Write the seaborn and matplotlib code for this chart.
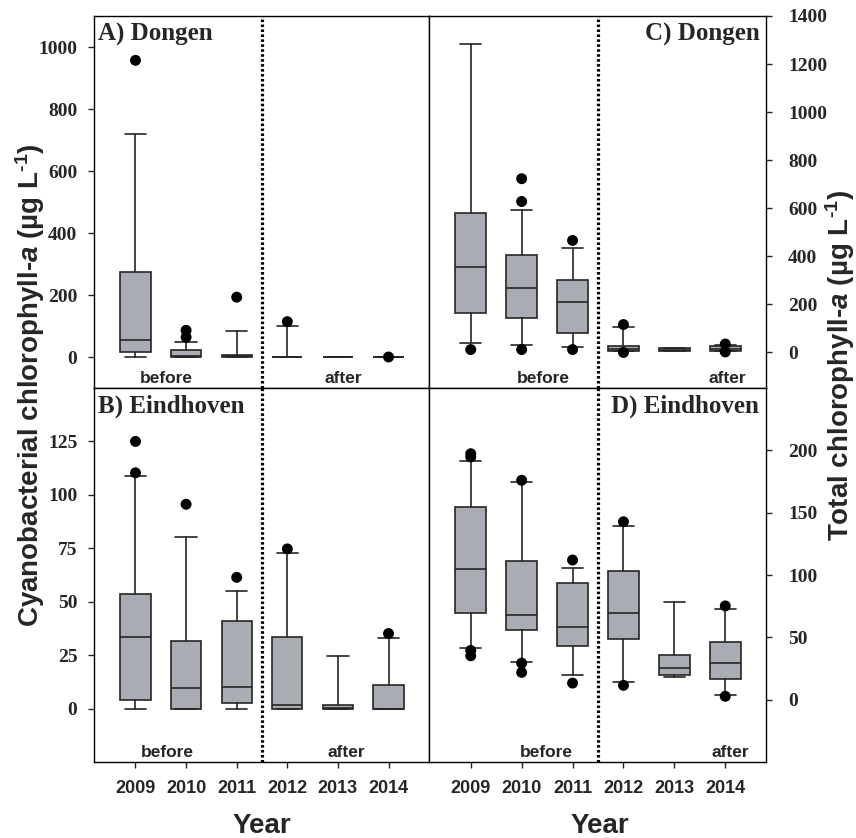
import matplotlib
matplotlib.use("Agg")
import matplotlib.pyplot as plt
import matplotlib.transforms as mtransforms
import numpy as np
import pandas as pd
import seaborn as sns

years = ["2009", "2010", "2011", "2012", "2013", "2014"]

# A) Dongen - cyanobacterial chlorophyll-a (box summary: whisker lo, q1, median, q3, whisker hi)
a_lo = [0, 0, 0, 0, 0, 0]
a_q1 = [15, 0, 0, 0, 0, 0]
a_med = [55, 3, 3, 0, 0, 0]
a_q3 = [275, 24, 8, 0, 0, 0]
a_hi = [720, 50, 84, 101, 0, 0]
a_out = [[957], [86, 64], [193], [114], [], [0]]

# B) Eindhoven - cyanobacterial chlorophyll-a
b_lo = [0, 0, 0, 0, 0, 0]
b_q1 = [3.9, 0, 2.6, 0, 0, 0]
b_med = [33.4, 9.4, 9.9, 1.9, 0.5, 0]
b_q3 = [53.4, 31.4, 41, 33.6, 1.9, 10.8]
b_hi = [109, 80.4, 55, 72.6, 24.4, 33.1]
b_out = [[110.3, 125], [95.6], [61.4], [74.7], [], [35.1]]

# C) Dongen - total chlorophyll-a
c_lo = [41, 30, 21, 5, 5, 5]
c_q1 = [163, 142, 79, 5, 7, 7]
c_med = [354, 268, 209, 14, 10, 14]
c_q3 = [581, 405, 302, 26, 17, 25]
c_hi = [1284, 592, 434, 104, 20, 30]
c_out = [[12], [628, 723, 12], [466, 12], [116, 0], [], [35, 2]]

# D) Eindhoven - total chlorophyll-a
d_lo = [41.6, 29.9, 19.7, 14.4, 18.1, 3.5]
d_q1 = [69.9, 56, 42.7, 48.8, 19.7, 16.3]
d_med = [104.5, 68, 57.9, 69.3, 25.3, 29.6]
d_q3 = [154.7, 111.5, 93.9, 103.5, 36, 46.1]
d_hi = [191.7, 174.4, 105.6, 139.5, 78.4, 72.5]
d_out = [[197.3, 194.7, 39.5, 35.2], [176, 29.3, 21.9], [112, 13.3], [142.7, 11.5], [], [75.2, 2.7]]

sns.set_theme(style="ticks")
plt.rcParams["font.family"] = ["Liberation Sans", "DejaVu Sans"]
plt.rcParams["font.weight"] = "bold"
plt.rcParams["axes.edgecolor"] = "black"
plt.rcParams["axes.linewidth"] = 1.0
plt.rcParams["mathtext.fontset"] = "custom"
plt.rcParams["mathtext.rm"] = "Liberation Sans:bold"
plt.rcParams["mathtext.it"] = "Liberation Sans:italic:bold"
plt.rcParams["mathtext.bf"] = "Liberation Sans:bold"

LINE = "#262626"
FILL = "#a9acb2"


def draw_panel(ax, lo, q1, med, q3, hi, outliers, ylim, yticks, title, side,
               before_x, after_x, bottom_row):
    stats = [dict(whislo=w0, q1=b0, med=m, q3=b1, whishi=w1, fliers=[])
             for w0, b0, m, b1, w1 in zip(lo, q1, med, q3, hi)]
    ax.bxp(stats, positions=np.arange(len(years)), widths=0.6, capwidths=0.42,
           patch_artist=True, showfliers=False, manage_ticks=False,
           boxprops=dict(facecolor=FILL, edgecolor=LINE, linewidth=1.2),
           medianprops=dict(color=LINE, linewidth=1.2),
           whiskerprops=dict(color=LINE, linewidth=1.2),
           capprops=dict(color=LINE, linewidth=1.2))

    out_df = pd.DataFrame(
        [(i, v) for i, vals in enumerate(outliers) for v in vals],
        columns=["pos", "value"])
    sns.scatterplot(data=out_df, x="pos", y="value", color="black", s=62,
                    edgecolor="none", legend=False, zorder=5, ax=ax)

    ax.axvline(2.5, color="black", lw=2.3, ls=(0, (0.8, 0.75)), zorder=4)

    ax.set_xlim(-0.82, 5.8)
    ax.set_ylim(*ylim)
    ax.set_xlabel("")
    ax.set_ylabel("")

    ax.set_yticks(yticks, labels=[str(v) for v in yticks],
                  fontfamily="Liberation Serif", fontsize=14, fontweight="bold")
    if side == "left":
        ax.tick_params(axis="y", direction="out", length=4, width=1, pad=8,
                       left=True, right=False, labelleft=True, labelright=False)
    else:
        ax.tick_params(axis="y", direction="out", length=4, width=1, pad=12,
                       left=False, right=True, labelleft=False, labelright=True)

    if bottom_row:
        ax.set_xticks(np.arange(len(years)), labels=years, fontsize=13,
                      fontweight="bold")
        ax.tick_params(axis="x", direction="out", length=4, width=1, pad=9)
    else:
        ax.tick_params(axis="x", bottom=False, labelbottom=False)

    for sp in ax.spines.values():
        sp.set_visible(True)
        sp.set_color("black")
        sp.set_linewidth(1.0)

    if side == "left":
        ax.text(0.012, 0.982, title, transform=ax.transAxes, ha="left", va="top",
                fontfamily="Liberation Serif", fontsize=18, fontweight="bold")
    else:
        ax.text(0.98, 0.982, title, transform=ax.transAxes, ha="right", va="top",
                fontfamily="Liberation Serif", fontsize=18, fontweight="bold")

    trans = mtransforms.blended_transform_factory(ax.transData, ax.transAxes)
    ax.text(before_x, 0.026, "before", transform=trans, ha="center", va="center",
            fontsize=12.5, fontweight="bold")
    ax.text(after_x, 0.026, "after", transform=trans, ha="center", va="center",
            fontsize=12.5, fontweight="bold")


W, H = 856, 838
fig = plt.figure(figsize=(W / 100, H / 100), dpi=100)

ax_a = fig.add_axes([94 / W, 1 - 388 / H, 335 / W, 372 / H])
ax_b = fig.add_axes([94 / W, 1 - 762 / H, 335 / W, 374 / H])
ax_c = fig.add_axes([429 / W, 1 - 388 / H, 337 / W, 372 / H])
ax_d = fig.add_axes([429 / W, 1 - 762 / H, 337 / W, 374 / H])

draw_panel(ax_a, a_lo, a_q1, a_med, a_q3, a_hi, a_out, (-100, 1100),
           [0, 200, 400, 600, 800, 1000], "A) Dongen", "left", 0.6, 4.1, False)
draw_panel(ax_b, b_lo, b_q1, b_med, b_q3, b_hi, b_out, (-25, 150),
           [0, 25, 50, 75, 100, 125], "B) Eindhoven", "left", 0.63, 4.17, True)
draw_panel(ax_c, c_lo, c_q1, c_med, c_q3, c_hi, c_out, (-148, 1400),
           [0, 200, 400, 600, 800, 1000, 1200, 1400], "C) Dongen", "right",
           1.42, 5.04, False)
draw_panel(ax_d, d_lo, d_q1, d_med, d_q3, d_hi, d_out, (-50, 250),
           [0, 50, 100, 150, 200], "D) Eindhoven", "right", 1.48, 5.1, True)

fig.text(30 / W, 1 - 385 / H,
         r"Cyanobacterial chlorophyll-$\mathit{a}$ (µg L$^{\text{-1}}$)",
         rotation=90, ha="center", va="center", fontsize=20, fontweight="bold")
fig.text(840 / W, 1 - 366 / H,
         r"Total chlorophyll-$\mathit{a}$ (µg L$^{\text{-1}}$)",
         rotation=90, ha="center", va="center", fontsize=20, fontweight="bold")
fig.text(262 / W, 1 - 826 / H, "Year", ha="center", va="center",
         fontsize=20, fontweight="bold")
fig.text(600 / W, 1 - 826 / H, "Year", ha="center", va="center",
         fontsize=20, fontweight="bold")

fig.savefig("out.png", dpi=100)
